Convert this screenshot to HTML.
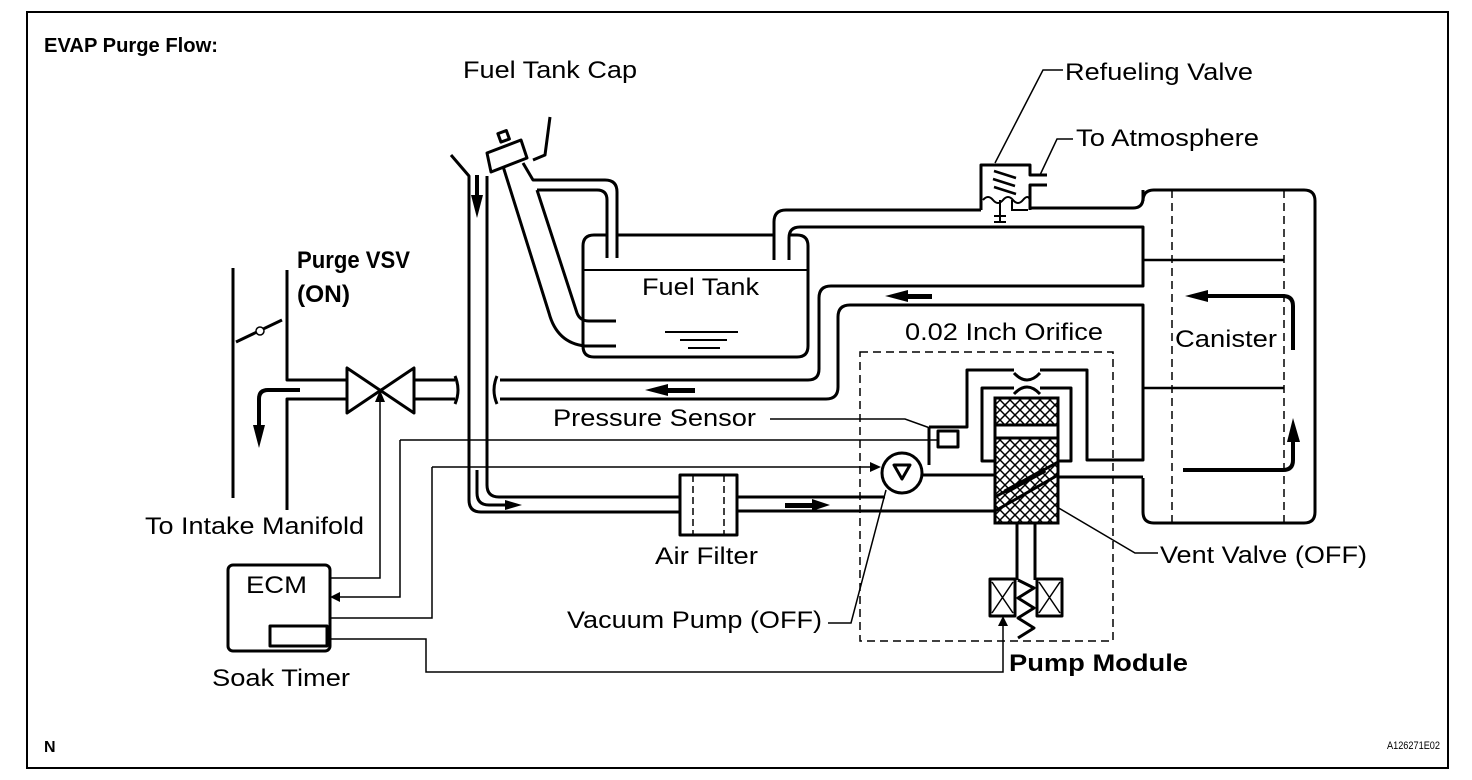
<!DOCTYPE html>
<html><head><meta charset="utf-8"><style>
html,body{margin:0;padding:0;background:#fff;}
svg{display:block;}
text{font-family:"Liberation Sans",Arial,sans-serif;font-size:24px;fill:#000;}
.b{font-weight:bold;}
</style></head><body>
<svg width="1472" height="780" viewBox="0 0 1472 780" xmlns="http://www.w3.org/2000/svg">
<rect x="27" y="12" width="1421" height="756" fill="none" stroke="#000" stroke-width="2"/>
<defs>
<pattern id="hx" width="10" height="10" patternUnits="userSpaceOnUse">
<path d="M0 0L10 10M10 0L0 10" stroke="#000" stroke-width="1.5"/>
</pattern>
</defs>
<g fill="none" stroke="#000" stroke-width="3" stroke-linejoin="round">
<line x1="233" y1="268" x2="233" y2="498"/>
<path d="M287 270V380H347M287 510V399H347"/>
<line x1="236" y1="342" x2="282" y2="320"/>
<path d="M347 368V413L414 368V413Z" fill="#fff"/>
<path d="M414 380H455M414 399H455"/>
<path d="M455 376q6 14 0 28M497 376q-6 14 0 28"/>
<path d="M500 380H808q11 0 11-11V298q0-12 12-12H1143V227H800q-11 0-11 11V260"/>
<path d="M500 399H826q12 0 12-12V317q0-12 12-12H1143V460H1087V370H1040M1014 370H967V427H929"/>
<path d="M774 260V222q0-12 12-12H981M1030 208H1133q10 0 10-10V190"/>
<path d="M981 210V165H1030V175H1047M1047 185H1030V210"/>
<path d="M1143 478V512q0 11 11 11H1304q11 0 11-11V201q0-11-11-11H1154q-11 0-11 11"/>
<path d="M607 235H594q-11 0-11 11V346q0 11 11 11H797q11 0 11-11V246q0-11-11-11H789"/>
<path d="M617 235H774"/>
<path d="M502 163L549 313q8 30 36 33H616"/>
<path d="M537 190L577 313q3 8 12 8H616"/>
<path d="M523 163L533 180H605q12 0 12 12V258"/>
<path d="M537 190H597q10 0 10 10V258"/>
<path d="M487 153L521 140L527 158L491 172Z" fill="#fff"/>
<rect x="499" y="132" width="9" height="9" transform="rotate(-20 503 136)"/>
<path d="M550 117L545 155L533 160"/>
<path d="M451 155L469 176V500q0 12 12 12H680"/>
<path d="M487 176V485q0 12 12 12H680"/>
<path d="M477 470V493q0 12 12 12H505"/>
<rect x="680" y="475" width="57" height="60"/>
<path d="M737 497H885M737 511H995"/>
<circle cx="902" cy="473" r="20" fill="#fff"/>
<path d="M894 465H910L902 479Z"/>
<path d="M922 475H995M929 465V427"/>
<rect x="938" y="431" width="20" height="16"/>
<path d="M995 461H982V388H1014M1040 388H1071V461H1058"/>
<path d="M1058 477H1143"/>
<path d="M1014 373q13 14 26 0M1014 394q13-14 26 0"/>
<path d="M1017 523V580M1035 523V580"/>
<rect x="990" y="579" width="25" height="37"/>
<rect x="1037" y="579" width="25" height="37"/>
<path d="M1018 580L1034 588L1018 598L1034 608L1018 618L1034 628L1018 638"/>
<rect x="228" y="565" width="102" height="86" rx="5"/>
<rect x="270" y="626" width="57" height="20"/>
</g>
<g stroke="#000" stroke-width="1.5" fill="none">
<path d="M992 582L1013 613M1013 582L992 613M1039 582L1060 613M1060 582L1039 613"/>
</g>
<rect x="995" y="398" width="63" height="125" fill="url(#hx)" stroke="#000" stroke-width="3"/>
<rect x="995" y="425" width="63" height="13" fill="#fff" stroke="#000" stroke-width="3"/>
<path d="M995 497L1058 462M995 511L1058 475" stroke="#000" stroke-width="3" fill="none"/>
<path d="M1005 492L1045 470" stroke="#000" stroke-width="5"/>
<g fill="none" stroke="#000" stroke-width="1.5">
<circle cx="260" cy="331" r="4" fill="#fff"/>
<line x1="693" y1="475" x2="693" y2="535" stroke-dasharray="7,4"/>
<line x1="724" y1="475" x2="724" y2="535" stroke-dasharray="7,4"/>
<rect x="860" y="352" width="253" height="289" stroke-dasharray="8,5"/>
<line x1="1172" y1="190" x2="1172" y2="523" stroke-dasharray="8,5"/>
<line x1="1284" y1="190" x2="1284" y2="523" stroke-dasharray="8,5"/>
<path d="M1143 260H1284M1143 388H1284" stroke-width="2.5"/>
<path d="M583 270H808" stroke-width="2"/>
<path d="M665 332H738M680 340H727M688 348H720" stroke-width="2"/>
<path d="M994 171L1016 178M993 179L1015 186M994 187L1016 194" stroke-width="2.5"/>
<path d="M983 200q5-6 10 0t10 0t10 0t10 0t7 0" stroke-width="2"/>
<path d="M1000 200V222M994 216H1006M994 222H1006M1012 200V210H1028" stroke-width="2"/>
<path d="M995 163L1043 70H1063M1040 175L1057 139H1073"/>
<path d="M770 419H905L930 428"/>
<path d="M1057 507L1135 553H1158"/>
<path d="M886 490L851 623H828"/>
<path d="M400 440H938M400 440V597H340"/>
<path d="M432 467H878M432 467V618H330"/>
<path d="M330 578H380V400"/>
<path d="M330 639H426V672H1003V624"/>
</g>
<g fill="#000">
<path d="M340 592L330 597L340 602Z"/>
<path d="M375 402L380 390L385 402Z"/>
<path d="M998 626L1003 616L1008 626Z"/>
<path d="M870 462L881 467L870 472Z"/>
<path d="M471 195H483L477 218Z"/><rect x="475" y="175" width="4" height="22"/>
<path d="M505 500L522 505L505 510Z"/>
<rect x="785" y="503" width="30" height="5"/><path d="M812 499L830 505L812 511Z"/>
<rect x="665" y="388" width="30" height="5"/><path d="M668 384L645 390L668 396Z"/>
<rect x="905" y="294" width="27" height="5"/><path d="M908 290L885 296L908 302Z"/>
<path d="M253 425H265L259 448Z"/>
<path d="M1208 290L1185 296L1208 302Z"/>
<path d="M1287 442L1293 418L1300 442Z"/>
</g>
<g fill="none" stroke="#000" stroke-width="4">
<path d="M300 390H268q-9 0-9 9V428"/>
<path d="M1205 296H1283q10 0 10 10V350"/>
<path d="M1183 470H1283q10 0 10-10V440"/>
</g>
<text x="44" y="52" class="b" style="font-size:20px" textLength="174" lengthAdjust="spacingAndGlyphs">EVAP Purge Flow:</text>
<text x="463" y="78" textLength="174" lengthAdjust="spacingAndGlyphs">Fuel Tank Cap</text>
<text x="1065" y="80" textLength="188" lengthAdjust="spacingAndGlyphs">Refueling Valve</text>
<text x="1076" y="146" textLength="183" lengthAdjust="spacingAndGlyphs">To Atmosphere</text>
<text x="297" y="268" class="b" textLength="113" lengthAdjust="spacingAndGlyphs">Purge VSV</text>
<text x="297" y="302" class="b" textLength="53" lengthAdjust="spacingAndGlyphs">(ON)</text>
<text x="642" y="295" textLength="117" lengthAdjust="spacingAndGlyphs">Fuel Tank</text>
<text x="905" y="340" textLength="198" lengthAdjust="spacingAndGlyphs">0.02 Inch Orifice</text>
<text x="1175" y="347" textLength="102" lengthAdjust="spacingAndGlyphs">Canister</text>
<text x="553" y="426" textLength="203" lengthAdjust="spacingAndGlyphs">Pressure Sensor</text>
<text x="145" y="534" textLength="219" lengthAdjust="spacingAndGlyphs">To Intake Manifold</text>
<text x="246" y="593" textLength="61" lengthAdjust="spacingAndGlyphs">ECM</text>
<text x="655" y="564" textLength="103" lengthAdjust="spacingAndGlyphs">Air Filter</text>
<text x="1160" y="563" textLength="207" lengthAdjust="spacingAndGlyphs">Vent Valve (OFF)</text>
<text x="567" y="628" textLength="255" lengthAdjust="spacingAndGlyphs">Vacuum Pump (OFF)</text>
<text x="212" y="686" textLength="138" lengthAdjust="spacingAndGlyphs">Soak Timer</text>
<text x="1009" y="671" class="b" textLength="179" lengthAdjust="spacingAndGlyphs">Pump Module</text>
<text x="44" y="752" class="b" style="font-size:16px">N</text>
<text x="1387" y="749" style="font-size:11px" textLength="53" lengthAdjust="spacingAndGlyphs">A126271E02</text>
</svg>
</body></html>
